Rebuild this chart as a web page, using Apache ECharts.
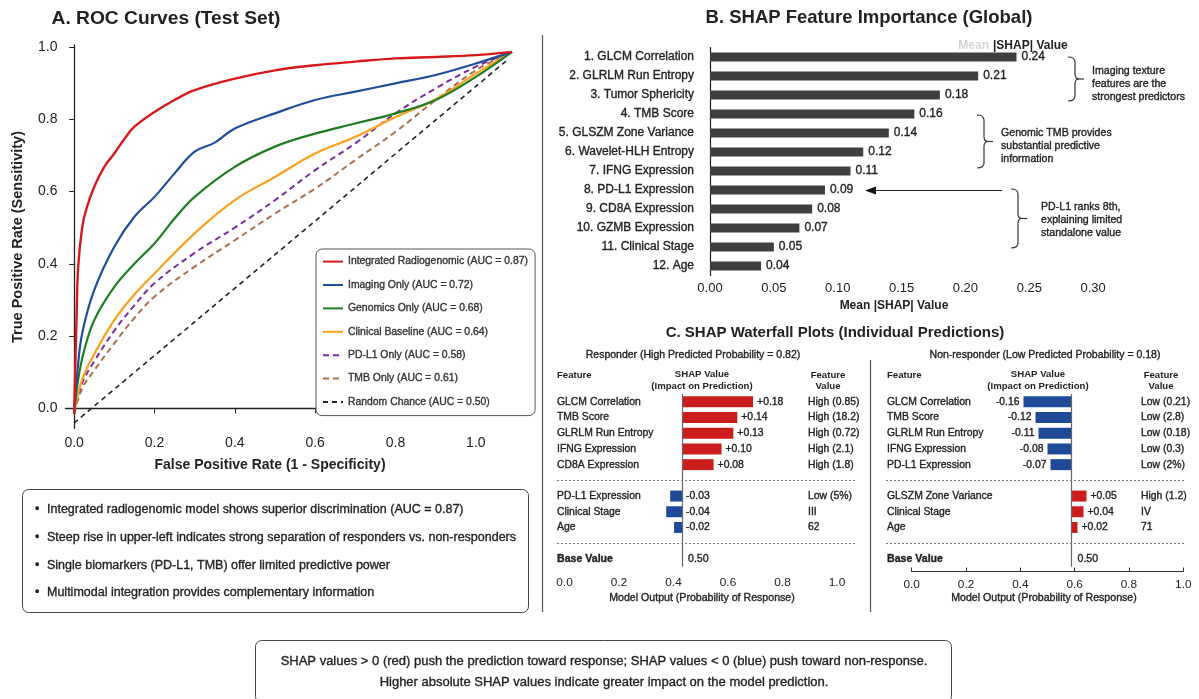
<!DOCTYPE html>
<html>
<head>
<meta charset="utf-8">
<script src="https://cdn.jsdelivr.net/npm/echarts@6/dist/echarts.min.js"></script>
<style>
  html, body { margin: 0; padding: 0; background: #ffffff; }
  #main { width: 1199px; height: 699px; }
</style>
</head>
<body>
<div id="main"></div>
<script>
const FONT = '"Liberation Sans", Arial, Helvetica, sans-serif';

// ---------- Panel A: ROC curves, points as [FPR, TPR] ----------
const rocNames = [
  'Integrated Radiogenomic (AUC = 0.87)',
  'Imaging Only (AUC = 0.72)',
  'Genomics Only (AUC = 0.68)',
  'Clinical Baseline (AUC = 0.64)',
  'PD-L1 Only (AUC = 0.58)',
  'TMB Only (AUC = 0.61)',
  'Random Chance (AUC = 0.50)'
];
const rocIntegrated = [[0,-0.014],[0.003,0.12],[0.006,0.25],[0.01,0.39],[0.02,0.5],[0.03,0.55],[0.05,0.613],[0.075,0.668],[0.1,0.705],[0.125,0.745],[0.15,0.779],[0.2,0.82],[0.25,0.853],[0.3,0.88],[0.4,0.912],[0.5,0.935],[0.6,0.949],[0.7,0.959],[0.8,0.968],[0.9,0.972],[1.0,0.977],[1.09,0.986]];
const rocImaging = [[0,-0.014],[0.008,0.1],[0.02,0.207],[0.05,0.327],[0.1,0.447],[0.15,0.53],[0.2,0.585],[0.25,0.65],[0.3,0.71],[0.35,0.735],[0.4,0.774],[0.5,0.816],[0.6,0.853],[0.7,0.876],[0.8,0.899],[0.9,0.922],[1.0,0.954],[1.09,0.986]];
const rocGenomics = [[0,-0.014],[0.01,0.08],[0.025,0.16],[0.05,0.244],[0.1,0.336],[0.15,0.4],[0.2,0.456],[0.25,0.525],[0.3,0.585],[0.4,0.668],[0.5,0.724],[0.6,0.76],[0.7,0.788],[0.8,0.816],[0.9,0.853],[1.0,0.917],[1.09,0.986]];
const rocClinical = [[0,-0.014],[0.02,0.08],[0.05,0.15],[0.1,0.244],[0.15,0.315],[0.2,0.373],[0.3,0.484],[0.4,0.576],[0.5,0.64],[0.6,0.705],[0.7,0.751],[0.8,0.806],[0.9,0.855],[1.0,0.926],[1.09,0.986]];
const rocPDL1 = [[0,-0.014],[0.02,0.07],[0.05,0.13],[0.1,0.215],[0.15,0.285],[0.2,0.346],[0.3,0.43],[0.4,0.5],[0.5,0.576],[0.6,0.659],[0.7,0.733],[0.8,0.816],[0.9,0.885],[1.0,0.945],[1.09,0.986]];
const rocTMB = [[0,-0.014],[0.02,0.055],[0.05,0.105],[0.1,0.18],[0.15,0.25],[0.2,0.309],[0.3,0.392],[0.4,0.465],[0.5,0.539],[0.6,0.608],[0.7,0.687],[0.8,0.765],[0.9,0.853],[1.0,0.935],[1.09,0.986]];
const rocRandom = [[0,-0.04],[1.08,0.965]];
const rocTicks = [0, 0.2, 0.4, 0.6, 0.8, 1.0];

const rocNotes = [
  'Integrated radiogenomic model shows superior discrimination (AUC = 0.87)',
  'Steep rise in upper-left indicates strong separation of responders vs. non-responders',
  'Single biomarkers (PD-L1, TMB) offer limited predictive power',
  'Multimodal integration provides complementary information'
];

// ---------- Panel B: global mean |SHAP| ----------
const featNames = ['1. GLCM Correlation','2. GLRLM Run Entropy','3. Tumor Sphericity','4. TMB Score','5. GLSZM Zone Variance','6. Wavelet-HLH Entropy','7. IFNG Expression','8. PD-L1 Expression','9. CD8A Expression','10. GZMB Expression','11. Clinical Stage','12. Age'];
const meanAbsShap = [0.24,0.21,0.18,0.16,0.14,0.12,0.11,0.09,0.08,0.07,0.05,0.04];
const shapTicks = [0, 0.05, 0.10, 0.15, 0.20, 0.25, 0.30];

// ---------- Panel C: waterfall, individual predictions ----------
const baseValue = 0.50;
const respProb = 0.82;
const respFeatures = ['GLCM Correlation','TMB Score','GLRLM Run Entropy','IFNG Expression','CD8A Expression','PD-L1 Expression','Clinical Stage','Age'];
const respShap = [0.18, 0.14, 0.13, 0.10, 0.08, -0.03, -0.04, -0.02];
const respValues = ['High (0.85)','High (18.2)','High (0.72)','High (2.1)','High (1.8)','Low (5%)','III','62'];
const nonProb = 0.18;
const nonFeatures = ['GLCM Correlation','TMB Score','GLRLM Run Entropy','IFNG Expression','PD-L1 Expression','GLSZM Zone Variance','Clinical Stage','Age'];
const nonShap = [-0.16, -0.12, -0.11, -0.08, -0.07, 0.05, 0.04, 0.02];
const nonValues = ['Low (0.21)','Low (2.8)','Low (0.18)','Low (0.3)','Low (2%)','High (1.2)','IV','71'];
const outputTicks = [0, 0.2, 0.4, 0.6, 0.8, 1.0];

// ---------- styles ----------
const rocStyles = [
  { color: '#d7191c', width: 2.4, type: 'solid', z: 9 },
  { color: '#1f4e9a', width: 2.2, type: 'solid', z: 8 },
  { color: '#1e7d22', width: 2.2, type: 'solid', z: 7 },
  { color: '#ffa01c', width: 2.2, type: 'solid', z: 6 },
  { color: '#7a2e9e', width: 2.0, type: [6, 4], z: 5 },
  { color: '#a8714f', width: 2.0, type: [6, 4], z: 4 },
  { color: '#222222', width: 1.6, type: [5, 4], z: 3 }
];
const rocData = [rocIntegrated, rocImaging, rocGenomics, rocClinical, rocPDL1, rocTMB, rocRandom];
const POS = '#cc1d1d';
const NEG = '#1f4a98';
const INK = '#222222';
// slight stroke to give the small text a medium weight
const MED = { textBorderColor: INK, textBorderWidth: 0.35 };

const chart = echarts.init(document.getElementById('main'));

// rows: top five contributors, gap, remaining three, gap, base value
function rowsOf(list, gapA, gapB, last) {
  return [...list.slice(0, 5), gapA, ...list.slice(5), gapB, last];
}
function waterfallBars(shap, negLabelPos) {
  const items = shap.map(v => ({
    value: v,
    itemStyle: { color: v > 0 ? POS : NEG },
    label: { position: v > 0 ? 'right' : negLabelPos }
  }));
  return rowsOf(items, '-', '-', '-');
}
const fmtShap = p => (p.value > 0 ? '+' : '-') + Math.abs(p.value).toFixed(2);

function nameAxis(gridIndex, rows, margin) {
  return {
    type: 'category', gridIndex, data: rows, inverse: true,
    axisLine: { show: false }, axisTick: { show: false },
    axisLabel: Object.assign({
      align: 'left', margin, fontSize: 10.4, color: INK, fontFamily: FONT,
      formatter: v => v === 'Base Value' ? '{b|' + v + '}' : v,
      rich: { b: { fontWeight: 'bold', fontSize: 10.6, color: INK, fontFamily: FONT } }
    }, MED)
  };
}
function valueAxis(gridIndex, rows, margin) {
  return {
    type: 'category', gridIndex, data: rows, inverse: true, position: 'right',
    axisLine: { show: false }, axisTick: { show: false },
    axisLabel: Object.assign({ align: 'left', margin, fontSize: 10.4, color: INK, fontFamily: FONT }, MED)
  };
}
function outputAxis(gridIndex, showLine) {
  return {
    type: 'value', gridIndex, min: 0, max: 1, interval: 0.2,
    axisLine: { show: showLine, lineStyle: { color: '#333', width: 1 } },
    axisTick: { show: showLine, inside: true, length: 4, lineStyle: { color: '#333' } },
    axisLabel: { customValues: outputTicks, formatter: v => v.toFixed(1), fontSize: 11.8, color: INK, margin: 7, fontFamily: FONT },
    splitLine: { show: false }
  };
}

const rowsL = rowsOf(respFeatures, ' ', '  ', 'Base Value');
const rowsR = rowsOf(nonFeatures, ' ', '  ', 'Base Value');
const valsL = rowsOf(respValues, ' ', '  ', '   ');
const valsR = rowsOf(nonValues, ' ', '  ', '   ');

const rocSeries = rocData.map((d, i) => ({
  name: rocNames[i], type: 'line', xAxisIndex: 0, yAxisIndex: 0,
  data: d, showSymbol: false, symbol: 'none', smooth: 0.4,
  z: rocStyles[i].z,
  lineStyle: { color: rocStyles[i].color, width: rocStyles[i].width, type: rocStyles[i].type, join: 'round' },
  itemStyle: { color: rocStyles[i].color }
}));

const option = {
  animation: false,
  backgroundColor: '#ffffff',
  textStyle: { fontFamily: FONT },
  legend: {
    data: rocNames, orient: 'vertical', left: 316, top: 249,
    selectedMode: false, itemWidth: 20, itemHeight: 14, itemGap: 12.2,
    padding: [7, 7, 8, 6],
    itemStyle: { opacity: 0 },
    backgroundColor: '#ffffff', borderColor: '#555', borderWidth: 1, borderRadius: 6,
    textStyle: Object.assign({ fontSize: 10.4, color: '#333', fontFamily: FONT }, MED, { textBorderColor: '#333' })
  },
  grid: [
    { left: 65.5, top: 45, width: 446.5, height: 383.3 },   // A: ROC
    { left: 710, top: 47.5, width: 447, height: 228 },       // B: importance
    { left: 642.5, top: 394, width: 138.25, height: 172.7 }, // C: responder bars
    { left: 564.5, top: 560, width: 272.5, height: 10 },     // C: responder output axis
    { left: 1011.5, top: 394, width: 90, height: 172.7 },    // C: non-responder bars
    { left: 911.7, top: 561.5, width: 271.6, height: 10 }    // C: non-responder output axis
  ],
  xAxis: [
    {
      type: 'value', gridIndex: 0, min: -0.0215, max: 1.09,
      axisLine: { lineStyle: { color: '#222', width: 1.3 } },
      axisTick: { customValues: rocTicks, length: 5, lineStyle: { color: '#222' } },
      axisLabel: { customValues: rocTicks, formatter: v => v.toFixed(1), fontSize: 14, color: INK, margin: 8 },
      splitLine: { show: false }
    },
    {
      type: 'value', gridIndex: 1, min: 0, max: 0.35,
      axisLine: { lineStyle: { color: '#222', width: 1.2 } },
      axisTick: { customValues: shapTicks, length: 4, lineStyle: { color: '#222' } },
      axisLabel: { customValues: shapTicks, formatter: v => v.toFixed(2), fontSize: 13, color: INK, margin: 6 },
      splitLine: { show: false }
    },
    { type: 'value', gridIndex: 2, min: -0.1, max: 0.25, show: false },
    outputAxis(3, false),
    { type: 'value', gridIndex: 4, min: -0.2, max: 0.1, show: false },
    outputAxis(5, true)
  ],
  yAxis: [
    {
      type: 'value', gridIndex: 0, min: -0.055, max: 1.005,
      axisLine: { show: true, lineStyle: { color: '#222', width: 1.3 } },
      axisTick: { show: true, customValues: rocTicks, length: 5, lineStyle: { color: '#222' } },
      axisLabel: { customValues: rocTicks, formatter: v => v.toFixed(1), fontSize: 14, color: INK, margin: 8 },
      splitLine: { show: false }
    },
    {
      type: 'category', gridIndex: 1, data: featNames, inverse: true,
      axisLine: { show: true, lineStyle: { color: '#222', width: 1.2 } },
      axisTick: { show: false },
      axisLabel: Object.assign({ fontSize: 12, color: INK, margin: 16 }, MED)
    },
    nameAxis(2, rowsL, 642.5 - 557),
    valueAxis(2, valsL, 808 - 780.75),
    { type: 'value', gridIndex: 3, show: false, min: 0, max: 1 },
    nameAxis(4, rowsR, 1011.5 - 887),
    valueAxis(4, valsR, 1141 - 1101.5),
    { type: 'value', gridIndex: 5, show: false, min: 0, max: 1 }
  ],
  series: [
    ...rocSeries,
    {
      type: 'bar', xAxisIndex: 1, yAxisIndex: 1, data: meanAbsShap, barWidth: 9,
      itemStyle: { color: '#3f3f3f' },
      label: Object.assign({ show: true, position: 'right', distance: 5, fontSize: 12, color: INK, formatter: p => p.value.toFixed(2) }, MED)
    },
    {
      type: 'bar', xAxisIndex: 2, yAxisIndex: 2, data: waterfallBars(respShap, 'right'), barWidth: 11,
      label: Object.assign({ show: true, distance: 4, fontSize: 10.4, color: INK, formatter: fmtShap }, MED),
      markLine: {
        silent: true, symbol: 'none', label: { show: false },
        lineStyle: { color: '#666', width: 1.2, type: 'solid' },
        data: [{ xAxis: 0 }]
      }
    },
    {
      type: 'bar', xAxisIndex: 4, yAxisIndex: 5, data: waterfallBars(nonShap, 'left'), barWidth: 11,
      label: Object.assign({ show: true, distance: 4, fontSize: 10.4, color: INK, formatter: fmtShap }, MED),
      markLine: {
        silent: true, symbol: 'none', label: { show: false },
        lineStyle: { color: '#666', width: 1.2, type: 'solid' },
        data: [{ xAxis: 0 }]
      }
    }
  ]
};
chart.setOption(option);

// ---------- annotations and text blocks ----------
function txt(text, x, y, size, o) {
  o = o || {};
  const color = o.color || INK;
  const style = {
    text, fill: color, fontSize: size, fontWeight: o.weight || 'normal',
    fontFamily: FONT, align: o.align || 'left', verticalAlign: 'middle',
    lineHeight: o.lineHeight || size * 1.25
  };
  if (o.med) { style.stroke = color; style.lineWidth = 0.35; }
  return { type: 'text', silent: true, x, y, rotation: o.rotation || 0, z: 20, style };
}
function hline(x1, x2, y, o) {
  o = o || {};
  return { type: 'line', silent: true, z: 15, shape: { x1, y1: y, x2, y2: y },
    style: { stroke: o.color || '#666', lineWidth: o.width || 1, lineDash: o.dash || null } };
}
function vline(x, y1, y2, o) {
  o = o || {};
  return { type: 'line', silent: true, z: 15, shape: { x1: x, y1, x2: x, y2 },
    style: { stroke: o.color || '#666', lineWidth: o.width || 1 } };
}
// right-facing curly brace: ends at x0, spine at x0+7, tip at x0+16
function brace(x0, y0, y1) {
  const s = x0 + 7, ym = (y0 + y1) / 2, r = 5;
  const st = { stroke: '#333', lineWidth: 1.2, fill: 'none' };
  const bz = (x1, y1_, cx, cy, x2, y2) => ({ type: 'bezierCurve', silent: true, z: 15,
    shape: { x1, y1: y1_, cpx1: cx, cpy1: cy, x2, y2 }, style: st });
  const ln = (x1, y1_, x2, y2) => ({ type: 'line', silent: true, z: 15, shape: { x1, y1: y1_, x2, y2 }, style: st });
  return [
    bz(x0, y0, s, y0, s, y0 + r),
    ln(s, y0 + r, s, ym - r),
    bz(s, ym - r, s, ym, s + 4, ym),
    ln(s + 4, ym, x0 + 16, ym),
    bz(s, ym + r, s, ym, s + 4, ym),
    ln(s, ym + r, s, y1 - r),
    bz(x0, y1, s, y1, s, y1 - r)
  ];
}

const gfx = [];
// panel titles
gfx.push(txt('A. ROC Curves (Test Set)', 166, 19, 19.2, { weight: 'bold', align: 'center' }));
gfx.push(txt('B. SHAP Feature Importance (Global)', 869, 18, 18.5, { weight: 'bold', align: 'center' }));
gfx.push(txt('C. SHAP Waterfall Plots (Individual Predictions)', 835, 333, 15, { weight: 'bold', align: 'center' }));

// panel A axis titles
gfx.push(txt('True Positive Rate (Sensitivity)', 18, 237, 14.5, { weight: 'bold', align: 'center', rotation: Math.PI / 2 }));
gfx.push(txt('False Positive Rate (1 - Specificity)', 270, 465, 14, { weight: 'bold', align: 'center' }));

// panel A notes box
gfx.push({ type: 'rect', silent: true, z: 10, shape: { x: 22.5, y: 489.5, width: 506, height: 123, r: 6 },
  style: { fill: '#fff', stroke: '#444', lineWidth: 1 } });
rocNotes.forEach((t, i) => {
  const y = 509.5 + i * 27.8;
  gfx.push(txt('\u2022', 35, y, 12.5, { med: true }));
  gfx.push(txt(t, 47, y, 12.5, { med: true }));
});

// panel separators
gfx.push(vline(542.5, 35, 612, { color: '#555', width: 1.2 }));
gfx.push(vline(870.5, 360, 612, { color: '#555', width: 1.2 }));

// panel B header and notes
gfx.push(txt('Mean', 989, 46, 12, { weight: 'bold', align: 'right', color: '#d4d4d4' }));
gfx.push(txt('|SHAP| Value', 993, 46, 12, { weight: 'bold' }));
gfx.push(txt('Mean |SHAP| Value', 894, 306, 12, { weight: 'bold', align: 'center' }));
gfx.push(...brace(1068, 57, 101));
gfx.push(txt('Imaging texture\nfeatures are the\nstrongest predictors', 1092, 84, 10.6, { lineHeight: 13.3, med: true }));
gfx.push(...brace(977, 115, 168));
gfx.push(txt('Genomic TMB provides\nsubstantial predictive\ninformation', 1001, 146, 10.6, { lineHeight: 13.3, med: true }));
gfx.push(...brace(1011, 189, 248));
gfx.push(txt('PD-L1 ranks 8th,\nexplaining limited\nstandalone value', 1041, 220, 10.6, { lineHeight: 13.3, med: true }));
gfx.push(hline(872, 1002, 190.5, { color: '#222', width: 1.2 }));
gfx.push({ type: 'polygon', silent: true, z: 16, shape: { points: [[865, 190.5], [876, 186.5], [876, 194.5]] }, style: { fill: '#111' } });

// panel C headers
const subL = 'Responder (High Predicted Probability = ' + respProb.toFixed(2) + ')';
const subR = 'Non-responder (Low Predicted Probability = ' + nonProb.toFixed(2) + ')';
gfx.push(txt(subL, 693, 355, 10.5, { align: 'center', med: true }));
gfx.push(txt(subR, 1045, 355, 10.5, { align: 'center', med: true }));
[[557, 702, 828], [887, 1038, 1161]].forEach(c => {
  gfx.push(txt('Feature', c[0], 375, 9.6, { weight: 'bold' }));
  gfx.push(txt('SHAP Value', c[1], 374, 9.6, { weight: 'bold', align: 'center' }));
  gfx.push(txt('(Impact on Prediction)', c[1], 386, 9.6, { weight: 'bold', align: 'center' }));
  gfx.push(txt('Feature', c[2], 375, 9.6, { weight: 'bold', align: 'center' }));
  gfx.push(txt('Value', c[2], 386, 9.6, { weight: 'bold', align: 'center' }));
});
gfx.push(txt('Model Output (Probability of Response)', 702, 598, 10.6, { align: 'center', med: true }));
gfx.push(txt('Model Output (Probability of Response)', 1044, 598, 10.6, { align: 'center', med: true }));

// dotted group separators on the gap rows, and the base value beside each zero line
[[2, 2, 557, 855], [4, 5, 886, 1185]].forEach(([xi, yi, x1, x2]) => {
  [' ', '  '].forEach(gap => {
    const y = Math.round(chart.convertToPixel({ yAxisIndex: yi }, gap)) + 0.5;
    gfx.push(hline(x1, x2, y, { color: '#777', width: 1, dash: [2, 2] }));
  });
  const bx = chart.convertToPixel({ xAxisIndex: xi }, 0);
  const by = chart.convertToPixel({ yAxisIndex: yi }, 'Base Value');
  gfx.push(txt(baseValue.toFixed(2), bx + 6, by, 10.6, { med: true }));
});

// bottom explanation box
gfx.push({ type: 'rect', silent: true, z: 10, shape: { x: 255.5, y: 640.5, width: 696, height: 62, r: 6 },
  style: { fill: '#fff', stroke: '#444', lineWidth: 1 } });
gfx.push(txt('SHAP values > 0 (red) push the prediction toward response; SHAP values < 0 (blue) push toward non-response.', 604, 661, 13, { align: 'center', med: true }));
gfx.push(txt('Higher absolute SHAP values indicate greater impact on the model prediction.', 604, 682, 13, { align: 'center', med: true }));

chart.setOption({ graphic: gfx });
</script>
</body>
</html>
